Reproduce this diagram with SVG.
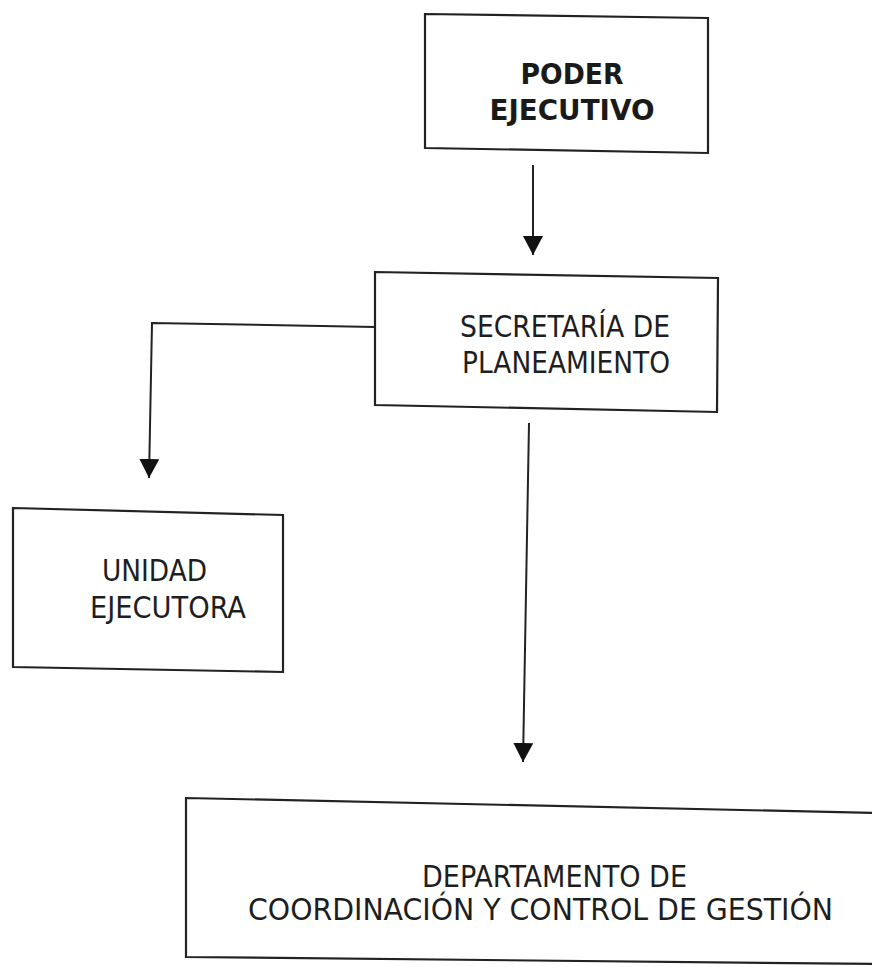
<svg xmlns="http://www.w3.org/2000/svg" width="872" height="967" viewBox="0 0 872 967">
  <style>
    .box { fill: none; stroke: #222; stroke-width: 2.2; stroke-linejoin: miter; }
    .lbl { font-family: "DejaVu Sans Condensed", "DejaVu Sans", sans-serif; font-stretch: condensed; font-size: 31px; fill: #1e1e1e; }
    .bold { font-family: "DejaVu Sans", sans-serif; font-weight: bold; font-size: 28px; fill: #1a1a1a; }
    .conn { fill: none; stroke: #222; stroke-width: 2; }
  </style>
  <defs>
    <marker id="arrow" viewBox="0 -10 19 20" refX="19" refY="0" markerWidth="19" markerHeight="20" markerUnits="userSpaceOnUse" orient="auto">
      <path d="M0,-10 L19,0 L0,10 Z" fill="#111"/>
    </marker>
  </defs>
  <rect width="872" height="967" fill="#ffffff"/>

  <g id="poder-ejecutivo">
    <path class="box" d="M425,14 L708,18 L708,153 L425,148 Z"/>
    <text class="bold" x="572" y="84" text-anchor="middle" textLength="103" lengthAdjust="spacingAndGlyphs">PODER</text>
    <text class="bold" x="572" y="120" text-anchor="middle" textLength="165" lengthAdjust="spacingAndGlyphs">EJECUTIVO</text>
  </g>

  <g id="secretaria-planeamiento">
    <path class="box" d="M375,272 L718,278 L717,412 L375,405 Z"/>
    <text class="lbl" x="460" y="337" textLength="210" lengthAdjust="spacingAndGlyphs">SECRETARÍA DE</text>
    <text class="lbl" x="462" y="373" textLength="208" lengthAdjust="spacingAndGlyphs">PLANEAMIENTO</text>
  </g>

  <g id="unidad-ejecutora">
    <path class="box" d="M13,508 L283,515 L283,672 L13,667 Z"/>
    <text class="lbl" x="102" y="581" textLength="105" lengthAdjust="spacingAndGlyphs">UNIDAD</text>
    <text class="lbl" x="90" y="618" textLength="156" lengthAdjust="spacingAndGlyphs">EJECUTORA</text>
  </g>

  <g id="departamento-coordinacion">
    <path class="box" d="M880,813 L186,798 L186,957 L880,964"/>
    <text class="lbl" x="422" y="887" textLength="265" lengthAdjust="spacingAndGlyphs">DEPARTAMENTO DE</text>
    <text class="lbl" x="248" y="920" textLength="585" lengthAdjust="spacingAndGlyphs">COORDINACIÓN Y CONTROL DE GESTIÓN</text>
  </g>

  <g id="connectors">
    <path class="conn" d="M533,165 L533,255" marker-end="url(#arrow)"/>
    <path class="conn" d="M375,327 L152,323 L149,478" marker-end="url(#arrow)"/>
    <path class="conn" d="M529,423 L523,762" marker-end="url(#arrow)"/>
  </g>
</svg>
